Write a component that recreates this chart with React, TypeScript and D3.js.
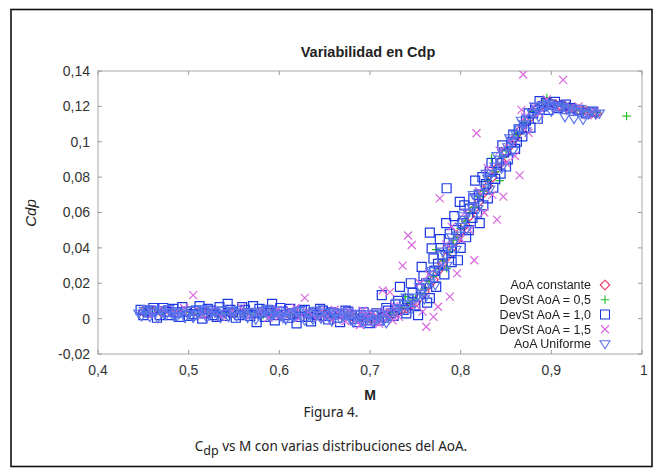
import React from "react";
import * as d3 from "d3";

type Pt = [number, number];

const xTicks = [0.4, 0.5, 0.6, 0.7, 0.8, 0.9, 1];
const yTicks = [-0.02, 0, 0.02, 0.04, 0.06, 0.08, 0.1, 0.12, 0.14];
const seriesNames = ["AoA constante", "DevSt AoA = 0,5", "DevSt AoA = 1,0", "DevSt AoA = 1,5", "AoA Uniforme"];

const aoaConstante: Pt[] = [
  [0.45,0.004],[0.46,0.004],[0.47,0.0035],[0.48,0.004],[0.49,0.0035],[0.5,0.004],[0.51,0.0035],[0.52,0.003],[0.53,0.0035],[0.54,0.003],
  [0.55,0.003],[0.56,0.0032],[0.57,0.003],[0.58,0.0028],[0.59,0.003],[0.6,0.0025],[0.61,0.0028],[0.62,0.0025],[0.63,0.0025],[0.64,0.0022],
  [0.65,0.0025],[0.66,0.002],[0.67,0.002],[0.68,0.0015],[0.69,0.001],[0.7,0.0005],[0.705,0.0],[0.71,0.0005],[0.715,0.001],[0.72,0.002],
  [0.725,0.003],[0.73,0.004],[0.735,0.005],[0.74,0.006],[0.745,0.0075],[0.75,0.009],[0.755,0.012],[0.76,0.015],[0.765,0.019],[0.77,0.022],
  [0.775,0.027],[0.78,0.031],[0.785,0.035],[0.79,0.04],[0.795,0.044],[0.8,0.049],[0.805,0.053],[0.81,0.058],[0.815,0.062],[0.82,0.066],
  [0.825,0.071],[0.83,0.075],[0.835,0.08],[0.84,0.085],[0.845,0.089],[0.85,0.094],[0.855,0.098],[0.86,0.102],[0.865,0.106],[0.87,0.11],
  [0.875,0.113],[0.88,0.116],[0.885,0.119],[0.89,0.121],[0.895,0.122],[0.9,0.1215],[0.905,0.121],[0.91,0.1205],[0.915,0.12],[0.92,0.1195],
  [0.925,0.119],[0.93,0.118],[0.935,0.1175],[0.94,0.117],[0.945,0.1165],[0.95,0.116]
];

const devSt05: Pt[] = [
  [0.452,0.0045],[0.462,0.0035],[0.472,0.004],[0.482,0.003],[0.492,0.0045],[0.502,0.0035],[0.512,0.003],[0.522,0.004],[0.532,0.0025],[0.542,0.0035],
  [0.552,0.003],[0.562,0.0025],[0.572,0.0035],[0.582,0.002],[0.592,0.003],[0.602,0.0025],[0.612,0.002],[0.622,0.003],[0.632,0.002],[0.642,0.0025],
  [0.652,0.0015],[0.662,0.002],[0.672,0.001],[0.682,0.0015],[0.692,0.0005],[0.702,-0.0005],[0.712,0.001],
  [0.722,0.003],[0.728,0.004],[0.734,0.006],[0.739,0.0124],[0.744,0.009],[0.75,0.011],[0.755,0.014],[0.76,0.017],[0.765,0.021],[0.77,0.024],
  [0.773,0.039],[0.776,0.028],[0.781,0.033],[0.7845,0.0284],[0.788,0.038],[0.792,0.0444],[0.796,0.046],[0.8,0.051],[0.805,0.055],[0.81,0.06],
  [0.815,0.063],[0.82,0.069],[0.825,0.072],[0.83,0.078],[0.834,0.0906],[0.838,0.083],[0.843,0.078],[0.846,0.091],[0.85,0.095],[0.855,0.097],
  [0.86,0.104],[0.865,0.105],[0.87,0.111],[0.875,0.114],[0.88,0.117],[0.885,0.118],[0.89,0.122],[0.895,0.1247],[0.898,0.1235],[0.905,0.1205],
  [0.912,0.121],[0.92,0.119],[0.928,0.1185],[0.935,0.117],[0.942,0.117],[0.95,0.1165],[0.983,0.1145]
];

const devSt10: Pt[] = [
  [0.447,0.005],[0.455,0.0035],[0.461,0.006],[0.468,0.002],[0.475,0.004],[0.483,0.0055],[0.49,0.001],[0.497,0.004],[0.505,0.0025],[0.512,0.0071],
  [0.518,0.003],[0.525,0.0045],[0.531,0.001],[0.537,0.004],[0.543,0.0083],[0.549,0.0035],[0.556,0.002],[0.562,0.005],[0.568,0.0015],[0.571,0.0071],
  [0.575,-0.002],[0.581,0.0035],[0.587,0.005],[0.592,0.0083],[0.598,0.002],[0.604,0.004],[0.61,0.0005],[0.615,0.003],[0.619,-0.0027],[0.625,0.0045],
  [0.632,0.001],[0.638,0.003],[0.645,0.0055],[0.651,0.0015],[0.657,0.0035],[0.664,0.0005],[0.67,0.0025],[0.676,0.004],[0.683,0.0],[0.69,0.002],
  [0.697,-0.001],[0.704,0.0015],[0.71,-0.001],
  [0.45,0.002],[0.458,0.0045],[0.465,0.0005],[0.472,0.006],[0.479,0.002],[0.486,0.0035],[0.493,0.0065],[0.5,0.0015],[0.508,0.0045],[0.515,0.0],
  [0.521,0.0055],[0.528,0.002],[0.534,0.0065],[0.54,0.0015],[0.546,0.005],[0.552,0.0005],[0.559,0.0065],[0.565,0.003],[0.578,0.0055],[0.584,0.001],
  [0.59,0.0045],[0.595,-0.001],[0.601,0.006],[0.607,0.002],[0.612,0.0055],[0.622,0.001],[0.628,0.005],[0.635,-0.0015],[0.641,0.002],[0.648,0.0045],
  [0.654,-0.0005],[0.66,0.003],[0.667,-0.002],[0.673,0.0045],[0.68,0.002],[0.686,-0.002],[0.693,0.0035],[0.7,-0.0025],[0.707,0.003],[0.715,0.0005],
  [0.72,0.0045],[0.726,0.0015],
  [0.713,0.0133],[0.718,0.006],[0.723,0.003],[0.728,0.008],[0.733,0.018],[0.737,0.005],[0.742,0.011],[0.747,0.0145],[0.753,0.002],[0.756,0.017],
  [0.757,0.0293],[0.762,0.02],[0.766,0.0116],[0.766,0.0486],[0.768,0.0397],[0.771,0.027],[0.775,0.031],[0.7845,0.0737],[0.78,0.036],[0.786,0.04],
  [0.788,0.048],[0.79,0.032],[0.795,0.05],[0.797,0.033],[0.799,0.066],[0.802,0.054],[0.806,0.046],[0.81,0.062],[0.813,0.057],[0.816,0.078],
  [0.82,0.07],[0.821,0.054],[0.825,0.064],[0.828,0.076],[0.832,0.083],[0.836,0.074],[0.84,0.088],[0.844,0.082],[0.848,0.094],[0.852,0.09],
  [0.856,0.1],[0.86,0.096],[0.864,0.107],[0.868,0.103],[0.872,0.112],[0.877,0.108],[0.88,0.116],[0.885,0.113],[0.89,0.12],[0.894,0.122],
  [0.899,0.121],[0.904,0.1225],[0.91,0.12],[0.916,0.121],[0.922,0.119],[0.93,0.118],[0.938,0.116],[0.946,0.117],
  [0.731,0.01],[0.74,0.003],[0.745,0.02],[0.75,0.0075],[0.759,0.024],[0.763,0.009],[0.77,0.034],[0.773,0.018],[0.777,0.045],[0.782,0.025],
  [0.784,0.054],[0.79,0.038],[0.793,0.058],[0.8,0.04],[0.804,0.064],[0.809,0.05],[0.814,0.068],[0.818,0.06],[0.824,0.08],[0.83,0.068],
  [0.834,0.088],[0.838,0.079],[0.846,0.098],[0.85,0.086],[0.858,0.104],[0.862,0.1],[0.87,0.108],[0.875,0.116],[0.882,0.119],[0.887,0.123],
  [0.897,0.118],[0.907,0.119]
];

const devSt15: Pt[] = [
  [0.46,0.0025],[0.472,0.005],[0.485,0.003],[0.495,0.006],[0.505,0.0133],[0.515,0.002],[0.525,0.0045],[0.535,0.001],[0.548,0.004],[0.558,0.0065],
  [0.568,0.002],[0.578,0.004],[0.588,0.0005],[0.598,0.005],[0.608,0.003],[0.618,0.006],[0.628,0.0117],[0.636,0.002],[0.645,0.0045],[0.653,0.001],
  [0.661,0.005],[0.669,0.0015],[0.677,0.004],[0.684,-0.001],[0.689,-0.0036],[0.695,0.002],[0.7,0.001],[0.706,-0.002],
  [0.6,0.0015],[0.612,0.0045],[0.622,0.0005],[0.632,0.004],[0.642,0.0],[0.65,0.003],[0.658,-0.001],[0.666,0.0035],[0.673,-0.0015],[0.68,0.003],
  [0.692,0.0045],[0.698,-0.002],[0.703,0.003],[0.71,-0.003],[0.716,0.004],[0.725,-0.001],[0.73,0.006],
  [0.714,0.016],[0.718,0.003],[0.722,0.015],[0.727,0.007],[0.732,0.001],[0.736,0.03],[0.742,0.047],[0.746,0.0416],[0.75,0.008],[0.755,0.02],
  [0.758,0.004],[0.762,-0.0046],[0.765,0.025],[0.77,0.001],[0.775,0.0067],[0.777,0.068],[0.78,0.03],[0.784,0.042],[0.788,0.0124],[0.79,0.052],
  [0.796,0.0256],[0.8,0.045],[0.805,0.06],[0.81,0.05],[0.815,0.033],[0.8175,0.1048],[0.82,0.072],[0.826,0.06],[0.83,0.085],[0.835,0.07],
  [0.84,0.056],[0.843,0.095],[0.847,0.069],[0.85,0.088],[0.855,0.1],[0.86,0.092],[0.865,0.081],[0.867,0.118],[0.869,0.138],[0.871,0.114],
  [0.875,0.105],[0.88,0.12],[0.887,0.116],[0.895,0.124],[0.905,0.119],[0.913,0.135],[0.92,0.118],[0.93,0.12],[0.94,0.115],[0.948,0.117]
];

const aoaUniforme: Pt[] = [
  [0.445,0.003],[0.451,0.0045],[0.457,0.001],[0.463,0.003],[0.469,0.005],[0.475,0.002],[0.481,0.0035],[0.487,0.0015],[0.493,0.004],[0.499,0.0025],
  [0.505,0.0005],[0.511,0.003],[0.517,0.0045],[0.523,0.002],[0.529,0.0035],[0.535,0.0005],[0.541,0.003],[0.547,0.0045],[0.553,0.0015],[0.559,0.003],
  [0.565,0.0005],[0.571,0.0035],[0.577,0.002],[0.583,0.0045],[0.589,0.001],[0.595,0.003],[0.601,0.0015],[0.607,-0.0005],[0.613,0.0025],[0.619,0.004],
  [0.625,0.001],[0.631,0.003],[0.637,-0.0005],[0.643,0.002],[0.649,0.0035],[0.655,0.0005],[0.661,0.0025],[0.667,0.0],[0.673,0.002],[0.679,-0.001],
  [0.685,0.001],[0.691,-0.0015],[0.697,0.0005],[0.703,-0.002],[0.709,0.0],[0.715,-0.001],[0.721,0.002],
  [0.448,0.0015],[0.454,0.0055],[0.46,0.0035],[0.466,0.0005],[0.472,0.0035],[0.478,0.0055],[0.484,0.001],[0.49,0.003],[0.496,0.0005],[0.502,0.0045],
  [0.508,0.002],[0.514,0.0055],[0.52,0.0005],[0.526,0.004],[0.532,0.002],[0.538,0.0045],[0.544,0.001],[0.55,0.0035],[0.556,0.005],[0.562,0.002],
  [0.568,0.004],[0.574,-0.0005],[0.58,0.003],[0.586,0.0055],[0.592,0.002],[0.598,0.0045],[0.604,0.0005],[0.61,0.0035],[0.616,0.001],[0.622,0.0045],
  [0.628,-0.001],[0.634,0.0025],[0.64,0.0045],[0.646,0.0],[0.652,0.002],[0.658,-0.0015],[0.664,0.0035],[0.67,0.001],[0.676,0.0035],[0.682,-0.002],
  [0.688,0.0025],[0.694,-0.0025],[0.7,0.0025],[0.706,-0.001],[0.712,0.0025],[0.718,-0.0025],
  [0.727,0.0035],[0.732,0.006],[0.737,0.005],[0.742,0.008],[0.747,0.0095],[0.752,0.012],[0.757,0.014],[0.761,0.018],[0.766,0.02],[0.77,0.025],
  [0.774,0.028],[0.779,0.032],[0.783,0.036],[0.787,0.04],[0.792,0.043],[0.796,0.047],[0.8,0.052],[0.804,0.056],[0.808,0.06],[0.812,0.063],
  [0.817,0.068],[0.821,0.071],[0.826,0.074],[0.83,0.079],[0.834,0.082],[0.838,0.086],[0.843,0.09],[0.847,0.093],[0.852,0.097],[0.856,0.1],
  [0.861,0.104],[0.865,0.107],[0.869,0.11],[0.874,0.113],[0.879,0.116],[0.884,0.118],[0.888,0.12],
  [0.73,0.009],[0.74,0.012],[0.745,0.005],[0.755,0.018],[0.76,0.011],[0.768,0.027],[0.772,0.019],[0.78,0.038],[0.785,0.03],[0.79,0.046],
  [0.795,0.039],[0.802,0.058],[0.806,0.05],[0.814,0.07],[0.819,0.062],[0.828,0.082],[0.832,0.073],[0.84,0.092],[0.845,0.085],[0.854,0.102],
  [0.858,0.095],[0.867,0.112],[0.872,0.106],[0.882,0.12],[0.886,0.114],
  [0.893,0.121],[0.897,0.1215],[0.901,0.12],[0.905,0.1205],[0.909,0.119],[0.913,0.12],[0.917,0.118],[0.921,0.119],[0.925,0.1175],[0.929,0.117],
  [0.933,0.1185],[0.937,0.116],[0.941,0.1155],[0.945,0.117],[0.949,0.1155],[0.953,0.116],[0.9,0.117],[0.915,0.114],[0.925,0.113],[0.935,0.1125]
];

const seriesData: Pt[][] = [aoaConstante, devSt05, devSt10, devSt15, aoaUniforme];
const seriesColors = ["#ee3366", "#22c022", "#1c38e4", "#d866dd", "#5a74ec"];
const markerPaths = [
  "M0,-4.8L4.8,0L0,4.8L-4.8,0Z",
  "M-4.2,0H4.2M0,-4.2V4.2",
  "M-4.5,-4.5H4.5V4.5H-4.5Z",
  "M-4,-4L4,4M-4,4L4,-4",
  "M-5,-3.3H5L0,4.8Z",
];

const W = 656, H = 471;
const x = d3.scaleLinear().domain([0.4, 1]).range([98, 642]);
const y = d3.scaleLinear().domain([-0.02, 0.14]).range([354, 71]);
const fmt = (v: number) => {
  const s = d3.format("~g")(+v.toFixed(3));
  return s.replace(".", ",").replace("−", "-");
};

export default function App() {
  const [x0, x1] = x.range();
  const [y0, y1] = y.range();
  const font = "'Liberation Sans', Arial, sans-serif";
  const capFont = "'Noto Sans', 'Open Sans', sans-serif";
  return (
    <svg width={W} height={H} style={{ position: "absolute", left: 0, top: 0, background: "#fff" }}>
      <defs>
        <filter id="soft" x="-5%" y="-5%" width="110%" height="110%">
          <feGaussianBlur stdDeviation="0.35" />
        </filter>
        <clipPath id="plotclip">
          <rect x={x0} y={y1} width={x1 - x0} height={y0 - y1} />
        </clipPath>
      </defs>
      <rect x={11} y={9.5} width={641} height={457} fill="none" stroke="#111" strokeWidth={1.6} />
      <text x={368} y={57} textAnchor="middle" fontFamily={font} fontWeight="bold" fontSize={14.5} fill="#222">
        Variabilidad en Cdp
      </text>
      <rect x={x0} y={y1} width={x1 - x0} height={y0 - y1} fill="none" stroke="#a8a8a8" strokeWidth={1} />
      {yTicks.map((t) => (
        <g key={"y" + t}>
          <line x1={x0} x2={x0 + 4} y1={y(t)} y2={y(t)} stroke="#999" />
          <line x1={x1} x2={x1 - 4} y1={y(t)} y2={y(t)} stroke="#999" />
          <text x={90} y={y(t)} dy="0.35em" textAnchor="end" fontFamily={font} fontSize={14} fill="#333">
            {fmt(t)}
          </text>
        </g>
      ))}
      {xTicks.map((t) => (
        <g key={"x" + t}>
          <line x1={x(t)} x2={x(t)} y1={y0} y2={y0 - 4} stroke="#999" />
          <line x1={x(t)} x2={x(t)} y1={y1} y2={y1 + 4} stroke="#999" />
          <text x={x(t) + (t === 1 ? 2 : 0)} y={375} textAnchor="middle" fontFamily={font} fontSize={14} fill="#333">
            {fmt(t)}
          </text>
        </g>
      ))}
      <text x={370} y={400} textAnchor="middle" fontFamily={font} fontWeight="bold" fontSize={14} fill="#222">M</text>
      <text transform="translate(36,213) rotate(-90)" textAnchor="middle" fontFamily={font} fontStyle="italic" fontSize={15} fill="#222">Cdp</text>
      <g clipPath="url(#plotclip)" filter="url(#soft)">
        {seriesData.map((data, si) => (
          <g key={"s" + si} stroke={seriesColors[si]} fill="none" strokeWidth={1.2}>
            {data.map((d, i) => (
              <path key={i} d={markerPaths[si]} transform={`translate(${x(d[0])},${y(d[1])})`} />
            ))}
          </g>
        ))}
      </g>
      <g>
        {seriesNames.map((n, i) => {
          const ly = 285 + i * 14.75;
          return (
            <g key={"l" + i}>
              <text x={591} y={ly} dy="0.35em" textAnchor="end" fontFamily={font} fontSize={12.5} fill="#222">{n}</text>
              <path d={markerPaths[i]} transform={`translate(605,${ly})`} stroke={seriesColors[i]} fill="none" strokeWidth={1.1} filter="url(#soft)" />
            </g>
          );
        })}
      </g>
      <text x={331} y={417} textAnchor="middle" fontFamily={capFont} fontSize={13.5} fill="#222">Figura 4.</text>
      <text x={331} y={451} textAnchor="middle" fontFamily={capFont} fontSize={13.5} fill="#222">
        C<tspan dy={4} fontSize={12.5}>dp</tspan><tspan dy={-4}> vs M con varias distribuciones del AoA.</tspan>
      </text>
    </svg>
  );
}
